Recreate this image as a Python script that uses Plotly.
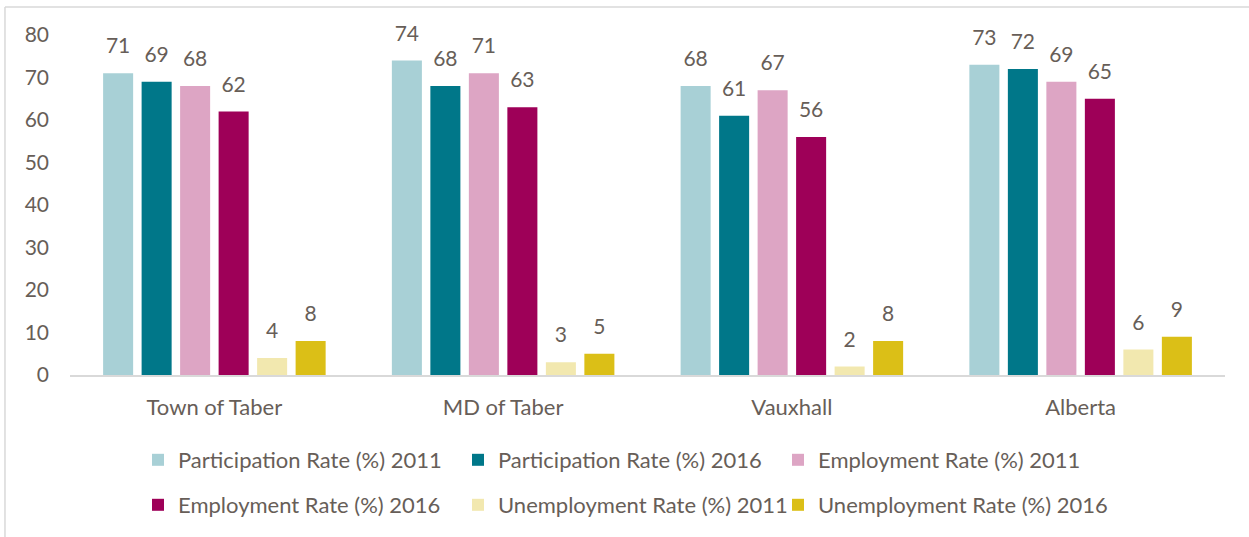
import plotly.graph_objects as go

# Labour force indicators by region
regions = ["Town of Taber", "MD of Taber", "Vauxhall", "Alberta"]

participation_2011 = [71, 74, 68, 73]
participation_2016 = [69, 68, 61, 72]
employment_2011 = [68, 71, 67, 69]
employment_2016 = [62, 63, 56, 65]
unemployment_2011 = [4, 3, 2, 6]
unemployment_2016 = [8, 5, 8, 9]

series_names = [
    "Participation Rate (%) 2011",
    "Participation Rate (%) 2016",
    "Employment Rate (%) 2011",
    "Employment Rate (%) 2016",
    "Unemployment Rate (%) 2011",
    "Unemployment Rate (%) 2016",
]
series_values = [
    participation_2011, participation_2016,
    employment_2011, employment_2016,
    unemployment_2011, unemployment_2016,
]
series_colors = ["#A8D0D6", "#007789", "#DDA5C4", "#9E0058", "#F2E8AF", "#DBBF17"]

text_color = "#675E58"
font_family = "Lato, 'Open Sans', sans-serif"
gap = 0.2

# pixel geometry of the plotting area
plot_left, plot_width = 70, 1155
plot_bottom, plot_height = 376, 341

legend_ids = ["legend", "legend2", "legend3", "legend4", "legend5", "legend6"]

fig = go.Figure()
for name, values, color, leg in zip(series_names, series_values, series_colors, legend_ids):
    fig.add_trace(go.Bar(
        name=name,
        x=regions,
        y=values,
        marker=dict(color=color, line=dict(width=0)),
        legend=leg,
        hoverinfo="name+y",
    ))

# value labels, placed in the same grouped slots as the bars
for name, values, color in zip(series_names, series_values, series_colors):
    fig.add_trace(go.Scatter(
        x=regions,
        y=values,
        mode="markers+text",
        text=[str(v) for v in values],
        textposition="top center",
        textfont=dict(size=21, color=text_color, family=font_family),
        marker=dict(size=22, opacity=0, color=color),
        showlegend=False,
        hoverinfo="skip",
        cliponaxis=False,
    ))

# legend laid out as a 3 x 2 grid, one single-entry legend per cell
legend_cols_px = [138, 458, 778]
legend_rows_px = [460, 505]
legends = {}
for i, leg in enumerate(legend_ids):
    col_px = legend_cols_px[i % 3]
    row_px = legend_rows_px[i // 3]
    legends[leg] = dict(
        orientation="h",
        xanchor="left",
        yanchor="middle",
        x=(col_px - plot_left) / plot_width,
        y=(plot_bottom - row_px) / plot_height,
        itemclick=False,
        itemdoubleclick=False,
        bgcolor="rgba(0,0,0,0)",
        font=dict(size=22, color=text_color, family=font_family),
    )

fig.update_layout(
    width=1249,
    height=537,
    margin=dict(l=plot_left, r=1249 - plot_left - plot_width, t=35, b=537 - plot_bottom),
    paper_bgcolor="white",
    plot_bgcolor="white",
    barmode="group",
    bargap=gap,
    bargroupgap=0.22,
    scattermode="group",
    scattergap=gap,
    font=dict(family=font_family, size=22, color=text_color),
    showlegend=True,
    xaxis=dict(
        showgrid=False,
        showline=True,
        linecolor="#D9D9D9",
        linewidth=2,
        ticks="",
        ticklabelstandoff=12,
        tickfont=dict(size=22, color=text_color),
    ),
    yaxis=dict(
        range=[0, 80],
        dtick=10,
        showgrid=False,
        zeroline=False,
        showline=False,
        ticks="",
        ticklabelstandoff=20,
        tickfont=dict(size=21, color=text_color),
    ),
    shapes=[
        dict(type="line", xref="paper", yref="paper",
             x0=-0.0563, x1=1.03, y0=1.0821, y1=1.0821,
             line=dict(color="#D9D9D9", width=1.5)),
        dict(type="line", xref="paper", yref="paper",
             x0=-0.0563, x1=-0.0563, y0=1.0821, y1=-0.48,
             line=dict(color="#D9D9D9", width=1.5)),
    ],
    **legends,
)

fig.write_html("out.html")
